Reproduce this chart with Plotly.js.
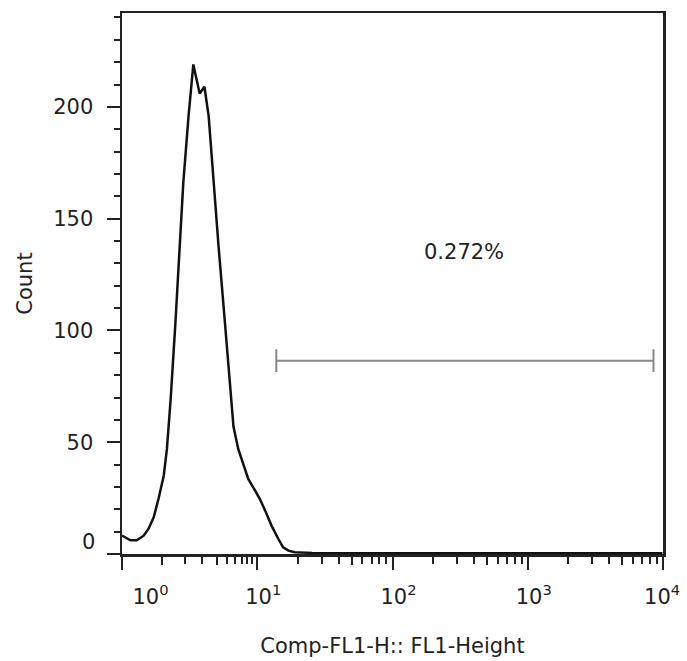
<!DOCTYPE html>
<html>
<head>
<meta charset="utf-8">
<script src="https://cdn.plot.ly/plotly-3.0.1.min.js"></script>
<style>html,body{margin:0;padding:0;background:#fff;}#chart{width:687px;height:661px;}</style>
</head>
<body>
<div id="chart"></div>
<script>
// Histogram of FL1-Height, x in acquisition channels (256 channels per decade)
const fl1Channel = [0, 16, 28, 41, 50, 60, 69, 79, 85, 89, 92, 101, 109, 116, 126, 135, 147, 156, 164, 173, 183, 195, 206, 211, 220, 230, 239, 252, 261, 271, 283, 296, 305, 315, 327, 360, 450, 600, 800, 1023];
const cellCount  = [8.2, 6.1, 6.1, 8.2, 11.2, 16.4, 24.6, 35, 47, 60, 69, 103, 137, 166, 196, 219, 206, 209, 196, 166, 137, 103, 69, 57, 47, 39.5, 33.6, 28.3, 24.6, 19.4, 12.7, 6.7, 3, 1.5, 0.8, 0.5, 0.4, 0.3, 0.3, 0.3];

// Range gate
const gateChannels = [292, 1006];
const gateCount = 86.5;
const gateLabel = '0.272%';
const gateLabelPos = [648, 135];

// Axis labels
const xTickText = ['10<sup>0</sup>', '10<sup>1</sup>', '10<sup>2</sup>', '10<sup>3</sup>', '10<sup>4</sup>'];
const xLabelChannels = [42.5, 256, 512, 768, 1011];
const yTickVals = [0, 50, 100, 150, 200];
const yTickText = ['', '50', '100', '150', '200'];
const xTitle = 'Comp-FL1-H:: FL1-Height';
const yTitle = 'Count';

// tick geometry of the log display
const CH_PER_DECADE = 256;
const longTicks = [0, 256, 512, 768, 1024];
const firstDecadeMinor = [119.6, 151.2, 198.4, 214.1, 226.8, 236.2, 245.7];
const firstDecadeMid = [75.6, 179.5];
const smallTicks = firstDecadeMinor.slice();
const midTicks = firstDecadeMid.slice();
for (let k = 1; k < 4; k++) {
  for (let m = 2; m <= 9; m++) {
    const c = CH_PER_DECADE * (k + Math.log10(m));
    if (m === 5) midTicks.push(c); else smallTicks.push(c);
  }
}

const ink = '#222';
const fontFam = 'DejaVu Sans, Verdana, sans-serif';
const fs = 21;

const traces = [
  {
    x: fl1Channel, y: cellCount, type: 'scatter', mode: 'lines',
    line: {color: '#111', width: 2.5, shape: 'linear'}, hoverinfo: 'skip'
  },
  {
    x: gateChannels, y: [gateCount, gateCount], type: 'scatter', mode: 'lines',
    xaxis: 'x2', yaxis: 'y',
    line: {color: '#888', width: 2},
    error_y: {type: 'constant', value: 5.1, color: '#888', thickness: 2, width: 0},
    hoverinfo: 'skip'
  }
];

const layout = {
  width: 687, height: 661,
  margin: {l: 122, r: 24, t: 13, b: 107},
  paper_bgcolor: '#fff', plot_bgcolor: '#fff',
  showlegend: false,
  font: {family: fontFam, size: fs, color: ink},
  xaxis: {
    range: [0, 1024], tickmode: 'array', tickvals: xLabelChannels, ticktext: xTickText,
    ticks: '', ticklen: 0,
    showline: true, linewidth: 2.5, linecolor: ink, mirror: true,
    showgrid: false, zeroline: false,
    ticklabelstandoff: 22, ticklabelshift: 6,
    minor: {tickmode: 'array', tickvals: smallTicks, ticks: 'outside', ticklen: 7, tickwidth: 2, tickcolor: ink, showgrid: false},
    title: {text: xTitle, standoff: 31, font: {size: fs}}
  },
  xaxis2: {
    overlaying: 'x', anchor: 'y', side: 'bottom', range: [0, 1024],
    tickmode: 'array', tickvals: longTicks, ticks: 'outside', ticklen: 15, tickwidth: 2, tickcolor: ink,
    showticklabels: false, showline: false, showgrid: false, zeroline: false,
    minor: {tickmode: 'array', tickvals: midTicks, ticks: 'outside', ticklen: 10, tickwidth: 2, tickcolor: ink, showgrid: false}
  },
  yaxis: {
    range: [0, 242], tickmode: 'array', tickvals: yTickVals, ticktext: yTickText,
    ticks: 'outside', ticklen: 13, tickwidth: 2, tickcolor: ink,
    showline: true, linewidth: 2.5, linecolor: ink, mirror: true,
    showgrid: false, zeroline: false, ticklabelstandoff: 9,
    minor: {tickmode: 'linear', tick0: 0, dtick: 10, ticks: 'outside', ticklen: 6, tickwidth: 2, tickcolor: ink, showgrid: false},
    title: {text: yTitle, standoff: 15, font: {size: fs}}
  },
  annotations: [
    {text: gateLabel, x: gateLabelPos[0], y: gateLabelPos[1], xref: 'x', yref: 'y', showarrow: false, font: {size: fs, color: ink}},
    {text: '0', x: 0, y: 0, xref: 'paper', yref: 'y', xanchor: 'right', yanchor: 'middle', xshift: -25, yshift: 12, showarrow: false, font: {size: fs, color: ink}}
  ]
};

Plotly.newPlot('chart', traces, layout, {staticPlot: true, displayModeBar: false});
</script>
</body>
</html>
